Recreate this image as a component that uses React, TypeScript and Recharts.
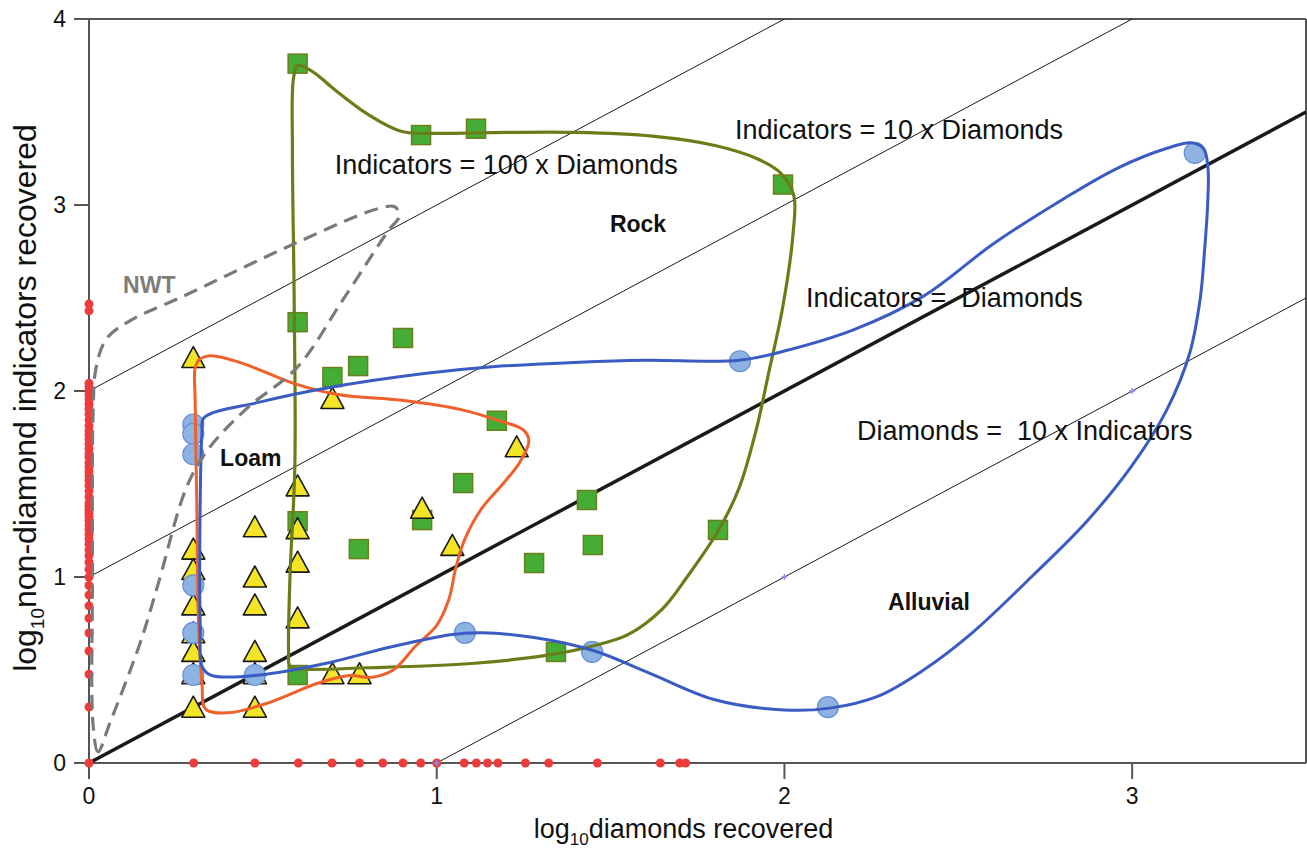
import { ComposedChart, ReferenceLine, Scatter, XAxis, YAxis } from 'recharts'

const FONT = '"Liberation Sans", Arial, Helvetica, sans-serif'

const X_TICKS = [0, 1, 2, 3]
const Y_TICKS = [0, 1, 2, 3, 4]

// samples with zero indicators (on the x axis) and zero diamonds (on the y axis)
const zeroIndicatorX = [
  0, 0.301, 0.477, 0.602, 0.699, 0.778, 0.845, 0.903, 0.954, 1.0, 1.079, 1.114, 1.146, 1.176,
  1.255, 1.322, 1.462, 1.643, 1.699, 1.716,
]
const zeroDiamondY = [
  0.301, 0.477, 0.602, 0.699, 0.778, 0.845, 0.903, 0.954, 1.0, 1.041, 1.079, 1.114, 1.146,
  1.176, 1.204, 1.23, 1.255, 1.279, 1.301, 1.322, 1.342, 1.362, 1.38, 1.398, 1.431, 1.462,
  1.491, 1.519, 1.544, 1.568, 1.591, 1.613, 1.643, 1.663, 1.69, 1.716, 1.74, 1.763, 1.785,
  1.813, 1.845, 1.875, 1.903, 1.929, 1.954, 1.978, 2.0, 2.021, 2.041, 2.431, 2.468,
]

const rockSamples: [number, number][] = [
  [0.6, 3.76], [0.955, 3.376], [1.113, 3.41], [1.996, 3.11], [0.6, 2.37], [0.903, 2.285],
  [0.774, 2.134], [0.7, 2.075], [1.173, 1.84], [1.076, 1.505], [0.958, 1.306], [0.6, 1.3],
  [0.776, 1.15], [1.432, 1.414], [1.449, 1.172], [1.28, 1.075], [1.809, 1.253], [1.343, 0.597],
  [0.6, 0.473],
]

const loamSamples: [number, number][] = [
  [0.3, 2.18], [0.3, 1.15], [0.3, 1.04], [0.3, 0.85], [0.3, 0.7], [0.3, 0.6], [0.3, 0.48],
  [0.3, 0.3], [0.477, 1.27], [0.477, 1.0], [0.477, 0.85], [0.477, 0.6], [0.477, 0.48],
  [0.477, 0.3], [0.6, 1.49], [0.6, 1.26], [0.6, 1.08], [0.6, 0.78], [0.7, 1.96], [0.7, 0.48],
  [0.778, 0.48], [0.958, 1.37], [1.045, 1.17], [1.23, 1.7],
]

const alluvialSamples: [number, number][] = [
  [0.3, 1.82], [0.3, 1.77], [0.3, 1.66], [0.3, 0.955], [0.3, 0.7], [0.3, 0.473], [0.477, 0.473],
  [1.081, 0.7], [1.447, 0.597], [2.125, 0.3], [1.872, 2.16], [3.18, 3.28],
]

const guideMarks: [number, number][] = [[1, 0], [2, 1], [3, 2]]

// hand drawn field outlines, traced clockwise
const rockOutline: [number, number][] = [
  [0.6, 3.75], [0.645, 3.715], [0.7, 3.63], [0.8, 3.49], [0.9, 3.395], [1.0, 3.385], [1.2, 3.39],
  [1.4, 3.39], [1.62, 3.37], [1.8, 3.32], [1.92, 3.25], [1.99, 3.17], [2.027, 3.05], [2.025, 2.85],
  [1.995, 2.45], [1.955, 2.1], [1.92, 1.8], [1.87, 1.48], [1.81, 1.25], [1.72, 1.0], [1.65, 0.83],
  [1.55, 0.69], [1.44, 0.625], [1.32, 0.58], [1.1, 0.535], [0.8, 0.512], [0.62, 0.505],
  [0.578, 0.52], [0.574, 0.6], [0.578, 1.0], [0.592, 1.6], [0.59, 2.5], [0.585, 3.3], [0.588, 3.68],
]

const loamOutline: [number, number][] = [
  [0.318, 2.17], [0.35, 2.19], [0.44, 2.15], [0.59, 2.04], [0.72, 1.98], [0.9, 1.95], [1.07, 1.9],
  [1.18, 1.84], [1.25, 1.79], [1.265, 1.73], [1.24, 1.62], [1.19, 1.5], [1.13, 1.37], [1.08, 1.2],
  [1.055, 1.05], [1.035, 0.88], [1.0, 0.74], [0.94, 0.63], [0.875, 0.5], [0.81, 0.46],
  [0.75, 0.47], [0.66, 0.43], [0.51, 0.32], [0.4, 0.27], [0.335, 0.29], [0.325, 0.43],
  [0.315, 0.75], [0.31, 1.4], [0.305, 1.97], [0.305, 2.12],
]

const alluvialOutline: [number, number][] = [
  [0.33, 1.855], [0.49, 1.94], [0.68, 2.015], [0.97, 2.095], [1.16, 2.13], [1.41, 2.155],
  [1.6, 2.165], [1.87, 2.165], [2.0, 2.215], [2.2, 2.33], [2.4, 2.51], [2.6, 2.79],
  [2.8, 3.03], [2.96, 3.2], [3.1, 3.305], [3.17, 3.335], [3.205, 3.305], [3.218, 3.2],
  [3.217, 3.0], [3.208, 2.75], [3.196, 2.5], [3.165, 2.2], [3.1, 1.9], [3.0, 1.6],
  [2.87, 1.3], [2.71, 1.0], [2.54, 0.7], [2.4, 0.5], [2.27, 0.36], [2.13, 0.295],
  [2.0, 0.285], [1.8, 0.34], [1.61, 0.485], [1.45, 0.605], [1.28, 0.675], [1.13, 0.7],
  [1.04, 0.69], [0.87, 0.625], [0.68, 0.535], [0.49, 0.473], [0.35, 0.473], [0.325, 0.52],
  [0.32, 0.72], [0.32, 1.43], [0.325, 1.78],
]

const nwtOutline: [number, number][] = [
  [0.026, 0.06], [0.012, 0.2], [0.01, 1.0], [0.012, 1.9], [0.02, 2.12], [0.05, 2.28],
  [0.12, 2.38], [0.26, 2.5], [0.6, 2.8], [0.83, 2.98], [0.88, 2.99], [0.892, 2.94], [0.86, 2.86],
  [0.73, 2.49], [0.6, 2.13], [0.45, 1.9], [0.34, 1.68], [0.28, 1.48], [0.2, 0.97],
  [0.147, 0.645], [0.06, 0.215],
]

// ratio guide lines: y = x + 2, y = x + 1, y = x - 1 and y = x
const lineHundred: [number, number][] = [[0, 2], [2, 4]]
const lineTen: [number, number][] = [[0, 1], [3, 4]]
const lineTenth: [number, number][] = [[1, 0], [3.5, 2.5]]
const lineEqual: [number, number][] = [[0, 0], [3.5, 3.5]]

const ratioNotes = [
  { text: 'Indicators = 100 x Diamonds', x: 0.707, y: 3.215 },
  { text: 'Indicators = 10 x Diamonds', x: 1.858, y: 3.403 },
  { text: 'Indicators =  Diamonds', x: 2.062, y: 2.5 },
  { text: 'Diamonds =  10 x Indicators', x: 2.209, y: 1.79 },
]
const fieldNames = [
  { text: 'Rock', x: 1.498, y: 2.9 },
  { text: 'Loam', x: 0.377, y: 1.64 },
  { text: 'Alluvial', x: 2.298, y: 0.866 },
]
const nwtName = [{ text: 'NWT', x: 0.098, y: 2.57 }]

const toXY = (pts: [number, number][]) => pts.map(([x, y]) => ({ x, y }))

// closed centripetal Catmull-Rom curve factory used for the outlines
function closedCatmullRom(context: any) {
  let pts: number[][] = []
  return {
    areaStart() {},
    areaEnd() {},
    lineStart() {
      pts = []
    },
    point(x: number, y: number) {
      pts.push([+x, +y])
    },
    lineEnd() {
      const n = pts.length
      if (n < 3) return
      const la = (a: number[], b: number[]) =>
        Math.pow((a[0] - b[0]) ** 2 + (a[1] - b[1]) ** 2, 0.25)
      context.moveTo(pts[0][0], pts[0][1])
      for (let i = 0; i < n; i++) {
        const p0 = pts[(i + n - 1) % n]
        const p1 = pts[i]
        const p2 = pts[(i + 1) % n]
        const p3 = pts[(i + 2) % n]
        const l01 = la(p0, p1)
        const l12 = la(p1, p2)
        const l23 = la(p2, p3)
        let c1 = p1
        let c2 = p2
        if (l01 > 1e-6) {
          const a = 2 * l01 * l01 + 3 * l01 * l12 + l12 * l12
          const m = 3 * l01 * (l01 + l12)
          c1 = [0, 1].map((k) => (p1[k] * a - p0[k] * l12 * l12 + p2[k] * l01 * l01) / m)
        }
        if (l23 > 1e-6) {
          const b = 2 * l23 * l23 + 3 * l23 * l12 + l12 * l12
          const m = 3 * l23 * (l23 + l12)
          c2 = [0, 1].map((k) => (p2[k] * b + p1[k] * l23 * l23 - p3[k] * l12 * l12) / m)
        }
        context.bezierCurveTo(c1[0], c1[1], c2[0], c2[1], p2[0], p2[1])
      }
      context.closePath()
    },
  }
}

const NoPoint = () => <g />

const RedDot = (p: any) => <circle cx={p.cx} cy={p.cy} r={4.5} fill="#ee3b3b" />

const GuideMark = (p: any) => (
  <path
    d={`M${p.cx - 3},${p.cy} H${p.cx + 3} M${p.cx},${p.cy - 3} V${p.cy + 3}`}
    stroke="#8a8aee"
    strokeWidth={1.5}
  />
)

const Square = (p: any) => (
  <rect
    x={p.cx - 9.5}
    y={p.cy - 9.5}
    width={19}
    height={19}
    fill="#45ad35"
    stroke="#6a7f1e"
    strokeWidth={1.5}
  />
)

const Triangle = (p: any) => (
  <path
    d={`M${p.cx},${p.cy - 11} L${p.cx + 11.5},${p.cy + 10} L${p.cx - 11.5},${p.cy + 10} Z`}
    fill="#f3e526"
    stroke="#1a1a1a"
    strokeWidth={1.6}
    strokeLinejoin="round"
  />
)

const Circle = (p: any) => (
  <circle cx={p.cx} cy={p.cy} r={10.5} fill="#8db3e2" stroke="#6a8ed6" strokeWidth={1.2} />
)

const PlainNote = (p: any) => (
  <text
    x={p.cx}
    y={p.cy}
    dy="0.35em"
    fontFamily={FONT}
    fontSize={27}
    fill="#111"
    style={{ whiteSpace: 'pre' }}
  >
    {p.payload.text}
  </text>
)

const FieldName = (p: any) => (
  <text x={p.cx} y={p.cy} dy="0.35em" fontFamily={FONT} fontSize={23} fontWeight="bold" fill="#111">
    {p.payload.text}
  </text>
)

const NwtName = (p: any) => (
  <text x={p.cx} y={p.cy} dy="0.35em" fontFamily={FONT} fontSize={23} fontWeight="bold" fill="#7d7d7d">
    {p.payload.text}
  </text>
)

const XLabel = (props: any) => {
  const vb = props.viewBox
  return (
    <text x={vb.x + vb.width / 2 - 14} y={838} textAnchor="middle" fontFamily={FONT} fontSize={27} fill="#111">
      <tspan>log</tspan>
      <tspan fontSize={17} dy={7}>10</tspan>
      <tspan dy={-7}>diamonds recovered</tspan>
    </text>
  )
}

const YLabel = (props: any) => {
  const vb = props.viewBox
  const cy = vb.y + vb.height / 2 + 7
  return (
    <text
      x={36}
      y={cy}
      transform={`rotate(-90, 36, ${cy})`}
      textAnchor="middle"
      fontFamily={FONT}
      fontSize={32}
      fill="#111"
    >
      <tspan>log</tspan>
      <tspan fontSize={19} dy={8}>10</tspan>
      <tspan dy={-8}>non-diamond indicators recovered</tspan>
    </text>
  )
}

const axisStroke = { stroke: '#555', strokeWidth: 2 }
const tickStyle = { fill: '#111', fontSize: 23, fontFamily: FONT }

export default function App() {
  const outline = (pts: [number, number][], stroke: string, width: number, dash?: string) => (
    <Scatter
      data={toXY(pts)}
      isAnimationActive={false}
      shape={NoPoint}
      line={{ stroke, strokeWidth: width, strokeDasharray: dash, fill: 'none' }}
      lineJointType={closedCatmullRom as any}
    />
  )
  const guide = (pts: [number, number][], width: number) => (
    <Scatter
      data={toXY(pts)}
      isAnimationActive={false}
      shape={NoPoint}
      line={{ stroke: '#1a1a1a', strokeWidth: width }}
      lineJointType="linear"
    />
  )

  return (
    <div style={{ position: 'absolute', left: 0, top: 0, background: '#fff' }}>
      <ComposedChart width={1307} height={851} margin={{ top: 19, right: 1, bottom: 0, left: 0 }}>
        <XAxis
          type="number"
          dataKey="x"
          domain={[0, 3.5]}
          ticks={X_TICKS}
          height={88}
          axisLine={axisStroke}
          tickLine={axisStroke}
          tickSize={16}
          tickMargin={9}
          tick={tickStyle}
          label={<XLabel />}
        />
        <YAxis
          type="number"
          dataKey="y"
          domain={[0, 4]}
          ticks={Y_TICKS}
          width={89}
          axisLine={axisStroke}
          tickLine={axisStroke}
          tickSize={15}
          tickMargin={8}
          tick={tickStyle}
          label={<YLabel />}
        />
        <ReferenceLine y={4} stroke="#555" strokeWidth={2} />
        <ReferenceLine x={3.5} stroke="#555" strokeWidth={2} />

        {guide(lineHundred, 1)}
        {guide(lineTen, 1)}
        {guide(lineTenth, 1)}
        {guide(lineEqual, 3.5)}

        <Scatter data={zeroIndicatorX.map((x) => ({ x, y: 0 }))} shape={RedDot} isAnimationActive={false} />
        <Scatter data={zeroDiamondY.map((y) => ({ x: 0, y }))} shape={RedDot} isAnimationActive={false} />
        <Scatter data={toXY(guideMarks)} shape={GuideMark} isAnimationActive={false} />

        <Scatter data={toXY(rockSamples)} shape={Square} isAnimationActive={false} />
        <Scatter data={toXY(loamSamples)} shape={Triangle} isAnimationActive={false} />
        <Scatter data={toXY(alluvialSamples)} shape={Circle} isAnimationActive={false} />

        {outline(rockOutline, '#6b7d18', 3.2)}
        {outline(loamOutline, '#f0602a', 3)}
        {outline(alluvialOutline, '#3a5cc2', 3)}
        {outline(nwtOutline, '#7a7a7a', 3.2, '14 8')}

        <Scatter data={ratioNotes} shape={PlainNote} isAnimationActive={false} />
        <Scatter data={fieldNames} shape={FieldName} isAnimationActive={false} />
        <Scatter data={nwtName} shape={NwtName} isAnimationActive={false} />
      </ComposedChart>
    </div>
  )
}
